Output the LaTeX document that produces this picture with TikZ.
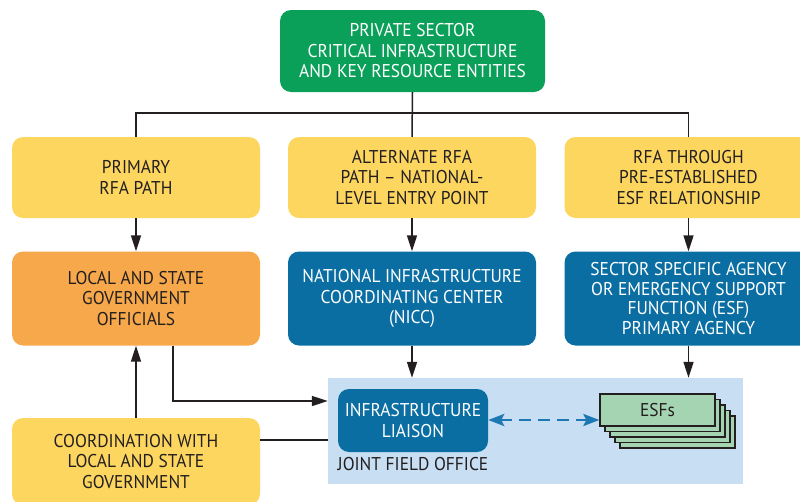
\documentclass[tikz,border=0pt]{standalone}
\usepackage{fontspec}
\setmainfont{PT Sans}[FakeStretch=0.94]
\usetikzlibrary{arrows.meta}
\definecolor{cgreen}{HTML}{0BA05A}
\definecolor{cyellow}{HTML}{FDD660}
\definecolor{corange}{HTML}{F7A84A}
\definecolor{cblue}{HTML}{0A6EA3}
\definecolor{clight}{HTML}{C8DEF3}
\definecolor{cesf}{HTML}{A5D4B2}
\definecolor{cdash}{HTML}{1E78B4}
\definecolor{ctext}{HTML}{231F20}
\begin{document}
\begin{tikzpicture}[x=1pt,y=-1pt,
  box/.style={rectangle, rounded corners=11pt, align=center, inner sep=0pt,
    font=\fontsize{18.5}{20.5}\selectfont, text=ctext},
  ybox/.style={box, fill=cyellow, minimum width=248pt, minimum height=81pt},
  bbox/.style={box, fill=cblue, text=white, minimum width=248pt, minimum height=94pt},
  link/.style={draw=ctext, line width=1.5pt},
  arr/.style={link, -{Triangle[length=16pt,width=10pt]}},
  esfbox/.style={draw=ctext, line width=1.3pt, fill=cesf}
]
\useasboundingbox (0,0) rectangle (800,501);

% top
\node[box, fill=cgreen, text=white, minimum width=265pt, minimum height=82pt] (g) at (412.5,51)
  {PRIVATE SECTOR\\CRITICAL INFRASTRUCTURE\\AND KEY RESOURCE ENTITIES};

% row 1
\node[ybox] (y1) at (136,177.5) {PRIMARY\\RFA PATH};
\node[ybox] (y2) at (412,177.5) {ALTERNATE RFA\\PATH -- NATIONAL-\\LEVEL ENTRY POINT};
\node[ybox] (y3) at (688.5,177.5) {RFA THROUGH\\PRE-ESTABLISHED\\ESF RELATIONSHIP};

% row 2
\node[box, fill=corange, minimum width=248pt, minimum height=94pt] (o) at (136,298.5)
  {LOCAL AND STATE\\GOVERNMENT\\OFFICIALS};
\node[bbox] (nicc) at (412,298.5) {NATIONAL INFRASTRUCTURE\\COORDINATING CENTER\\(NICC)};
\node[bbox, font=\fontsize{18.5}{19.5}\selectfont] (ssa) at (688.5,298.5)
  {SECTOR SPECIFIC AGENCY\\OR EMERGENCY SUPPORT\\FUNCTION (ESF)\\PRIMARY AGENCY};

% joint field office
\node[rectangle, fill=clight, minimum width=415pt, minimum height=106pt, inner sep=0pt] (jfo) at (535.5,431) {};
\node[box, fill=cblue, text=white, minimum width=150pt, minimum height=63pt] (li) at (413,420.5)
  {INFRASTRUCTURE\\LIAISON};
\node[font=\fontsize{18.5}{20.5}\selectfont, text=ctext, inner sep=0pt] (jl) at (413,464) {JOINT FIELD OFFICE};

% ESF stack
\foreach \i in {4,3,2,1} {
  \path[esfbox] (600+5*\i,394+5.5*\i) rectangle (715+5*\i,426+5.5*\i);
}
\node[esfbox, rectangle, minimum width=115pt, minimum height=32pt, inner sep=0pt,
  font=\fontsize{18.5}{20.5}\selectfont, text=ctext] (esf) at (657.5,410) {ESFs};

% bottom left
\node[ybox, minimum height=87pt] (cb) at (136,461.5)
  {COORDINATION WITH\\LOCAL AND STATE\\GOVERNMENT};

% connectors
\coordinate (j) at (412,113);
\draw[link] (g.south) -- (y2.north);
\draw[link] (y1.north) |- (j) -| (y3.north);
\draw[arr] (y1.south) -- (o.north);
\draw[arr] (y2.south) -- (nicc.north);
\draw[arr] (y3.south) -- (ssa.north);
\draw[arr] (nicc.south) -- (nicc.south |- jfo.north);
\draw[arr] (ssa.south) -- (ssa.south |- jfo.north);
\coordinate (ot) at (173,346);
\coordinate (oc) at (173,401);
\draw[arr] (ot) -- (oc) -- (oc -| jfo.west);
\draw[arr] (cb.north) -- (o.south);
\coordinate (cbe) at (260,440);
\draw[link] (cbe) -- (cbe -| jfo.west);
\draw[draw=cdash, line width=2.8pt, dash pattern=on 12pt off 7pt,
  {Stealth[length=16pt,width=12pt,inset=3pt]}-{Stealth[length=16pt,width=12pt,inset=3pt]}]
  (li.east |- 0,420) -- (esf.west |- 0,420);
\end{tikzpicture}
\end{document}
